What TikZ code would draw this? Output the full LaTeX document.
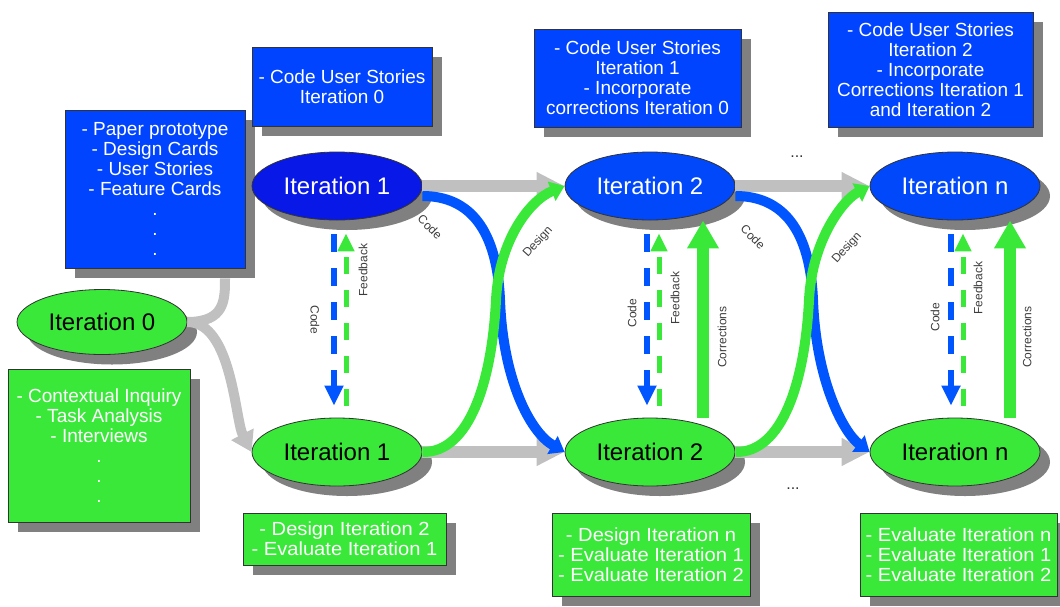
\documentclass[tikz,border=0pt]{standalone}
\usepackage{fontspec}
\setmainfont{Liberation Sans}
\newfontfamily\widefont[FakeStretch=1.06]{Liberation Sans}
\usetikzlibrary{shapes.geometric,arrows.meta,shadows}
\definecolor{boxblue}{RGB}{0,68,255}
\definecolor{ellblue}{RGB}{0,72,250}
\definecolor{ellblueA}{RGB}{8,24,230}
\definecolor{mygreen}{RGB}{58,232,58}
\definecolor{curveblue}{RGB}{0,85,255}
\definecolor{arrowgray}{RGB}{192,192,192}
\definecolor{shadowgray}{RGB}{128,128,128}
\definecolor{labelgray}{RGB}{60,60,60}
\newcommand\bxfont{\fontsize{19}{20}\selectfont}
\newcommand\bxwfont{\widefont\fontsize{19}{20}\selectfont}
\newcommand\itfnt{\fontsize{24}{26}\selectfont}
\newcommand\lblfnt{\fontsize{12}{13}\selectfont}
\tikzset{
  shad/.style={drop shadow={shadow xshift=10pt,shadow yshift=-10pt,fill=shadowgray,opacity=1}},
  box/.style={shad,draw=black!80,line width=0.8pt,text=white,align=center,font=\bxfont,inner sep=0pt},
  bluebox/.style={box,fill=boxblue},
  greenbox/.style={box,fill=mygreen},
  iter/.style={shad,ellipse,draw=black!80,line width=0.8pt,minimum width=170pt,minimum height=68pt,font=\itfnt,inner sep=0pt},
  topiter/.style={iter,fill=ellblue,text=white},
  botiter/.style={iter,fill=mygreen,text=black},
  flow/.style={arrowgray,line width=12pt,-{Triangle[length=28pt,width=26pt]}},
  branch/.style={arrowgray,line width=10pt},
  codecurve/.style={curveblue,line width=10pt,-{Triangle[length=14pt,width=20pt]}},
  designcurve/.style={mygreen,line width=10pt,-{Triangle[length=14pt,width=20pt]}},
  codedash/.style={curveblue,line width=6pt,dash pattern=on 18pt off 16pt,-{Triangle[length=20pt,width=18pt]}},
  fbdash/.style={mygreen,line width=5pt,dash pattern=on 17pt off 16pt,-{Triangle[length=18pt,width=16pt]}},
  corr/.style={mygreen,line width=12pt,-{Triangle[length=28pt,width=30pt]}},
  lbl/.style={font=\lblfnt,text=labelgray,inner sep=1pt},
  dots/.style={font=\fontsize{16}{16}\selectfont,text=black!80,inner sep=0pt}
}
\begin{document}
\begin{tikzpicture}[x=1pt,y=-1pt]
\useasboundingbox (0,0) rectangle (1060,606);

% boxes
\node[bluebox,minimum width=180pt,minimum height=158pt] (A) at (155,189) {- Paper prototype\\- Design Cards\\- User Stories\\- Feature Cards\\.\\.\\.};
\node[bluebox,minimum width=180pt,minimum height=79pt] (B) at (342,86.5) {- Code User Stories\\Iteration 0};
\node[bluebox,minimum width=207pt,minimum height=98pt] (C) at (637.5,78) {- Code User Stories\\Iteration 1\\- Incorporate\\corrections Iteration 0};
\node[bluebox,minimum width=205pt,minimum height=115pt] (D) at (930.5,69.5) {- Code User Stories\\Iteration 2\\- Incorporate\\Corrections Iteration 1\\and Iteration 2};
\node[greenbox,minimum width=182pt,minimum height=153pt] (E) at (99,445.5) {- Contextual Inquiry\\- Task Analysis\\- Interviews\\.\\.\\.};
\node[greenbox,font=\bxwfont,minimum width=203pt,minimum height=52pt] (F) at (344.5,539) {- Design Iteration 2\\- Evaluate Iteration 1};
\node[greenbox,font=\bxwfont,minimum width=198pt,minimum height=83pt] (G) at (651,554.5) {- Design Iteration n\\- Evaluate Iteration 1\\- Evaluate Iteration 2};
\node[greenbox,font=\bxwfont,minimum width=197pt,minimum height=83pt] (H) at (958.5,554.5) {- Evaluate Iteration n\\- Evaluate Iteration 1\\- Evaluate Iteration 2};

% ellipses
\node[botiter,minimum height=65pt] (i0) at (102,322) {Iteration 0};
\node[topiter,fill=ellblueA] (t1) at (337,186) {Iteration 1};
\node[topiter] (t2) at (650,186) {Iteration 2};
\node[topiter] (tn) at (955,186) {Iteration n};
\node[botiter] (b1) at (337,452) {Iteration 1};
\node[botiter] (b2) at (650,452) {Iteration 2};
\node[botiter] (bn) at (955,452) {Iteration n};

% branch from iteration 0
\draw[branch] (i0.east) .. controls (225,322) and (225,300) .. ([xshift=70pt,yshift=-10pt]A.south);
\draw[branch,-{Triangle[length=20pt,width=24pt]}] (i0.east) .. controls (232,322) and (235,420) .. (b1.west);

% horizontal flow
\draw[flow] (t1.east) -- (t2.west);
\draw[flow] (t2.east) -- (tn.west);
\draw[flow] (b1.east) -- (b2.west);
\draw[flow] (b2.east) -- (bn.west);

% S curves
\draw[codecurve] ([yshift=-10pt]t1.east) .. controls (470,196) and (497,230) .. (500,300) .. controls (503,380) and (530,432) .. (b2.west);
\draw[designcurve] (b1.east) .. controls (470,453) and (492,380) .. (496,300) .. controls (499,240) and (530,200) .. (t2.west);
\draw[codecurve] ([yshift=-10pt]t2.east) .. controls (783,196) and (810,230) .. (813,300) .. controls (816,380) and (843,432) .. (bn.west);
\draw[designcurve] (b2.east) .. controls (783,453) and (805,380) .. (809,300) .. controls (812,240) and (843,200) .. (tn.west);
\node[lbl,rotate=-45] (lc1) at (430,227) {Code};
\node[lbl,rotate=48] (ld1) at (538,242) {Design};
\node[lbl,rotate=-45] (lc2) at (753,237) {Code};
\node[lbl,rotate=48] (ld2) at (847,248) {Design};

% vertical dashed arrows
\draw[codedash] ([xshift=-3pt,yshift=-14pt]t1.south) -- ([xshift=-3pt,yshift=12pt]b1.north);
\draw[fbdash] ([xshift=9pt,yshift=12pt]b1.north) -- ([xshift=9pt,yshift=-13pt]t1.south);
\draw[codedash] ([xshift=-3pt,yshift=-14pt]t2.south) -- ([xshift=-3pt,yshift=12pt]b2.north);
\draw[fbdash] ([xshift=9pt,yshift=12pt]b2.north) -- ([xshift=9pt,yshift=-13pt]t2.south);
\draw[codedash] ([xshift=-4pt,yshift=-14pt]tn.south) -- ([xshift=-4pt,yshift=12pt]bn.north);
\draw[fbdash] ([xshift=8pt,yshift=12pt]bn.north) -- ([xshift=8pt,yshift=-13pt]tn.south);
\draw[corr] ([xshift=53pt]b2.north) -- ([xshift=53pt]t2.south);
\draw[corr] ([xshift=55pt]bn.north) -- ([xshift=55pt]tn.south);

\node[lbl,rotate=-90] (lv1) at (315,320) {Code};
\node[lbl,rotate=90] (lf1) at (363,270) {Feedback};
\node[lbl,rotate=90] (lv2) at (632,313) {Code};
\node[lbl,rotate=90] (lf2) at (675,298) {Feedback};
\node[lbl,rotate=90] (lr2) at (722,337) {Corrections};
\node[lbl,rotate=90] (lv3) at (935,317) {Code};
\node[lbl,rotate=90] (lf3) at (978,288) {Feedback};
\node[lbl,rotate=90] (lr3) at (1027,337) {Corrections};

\node[dots] (d1) at (797,157) {...};
\node[dots] (d2) at (793,489) {...};
\end{tikzpicture}
\end{document}
